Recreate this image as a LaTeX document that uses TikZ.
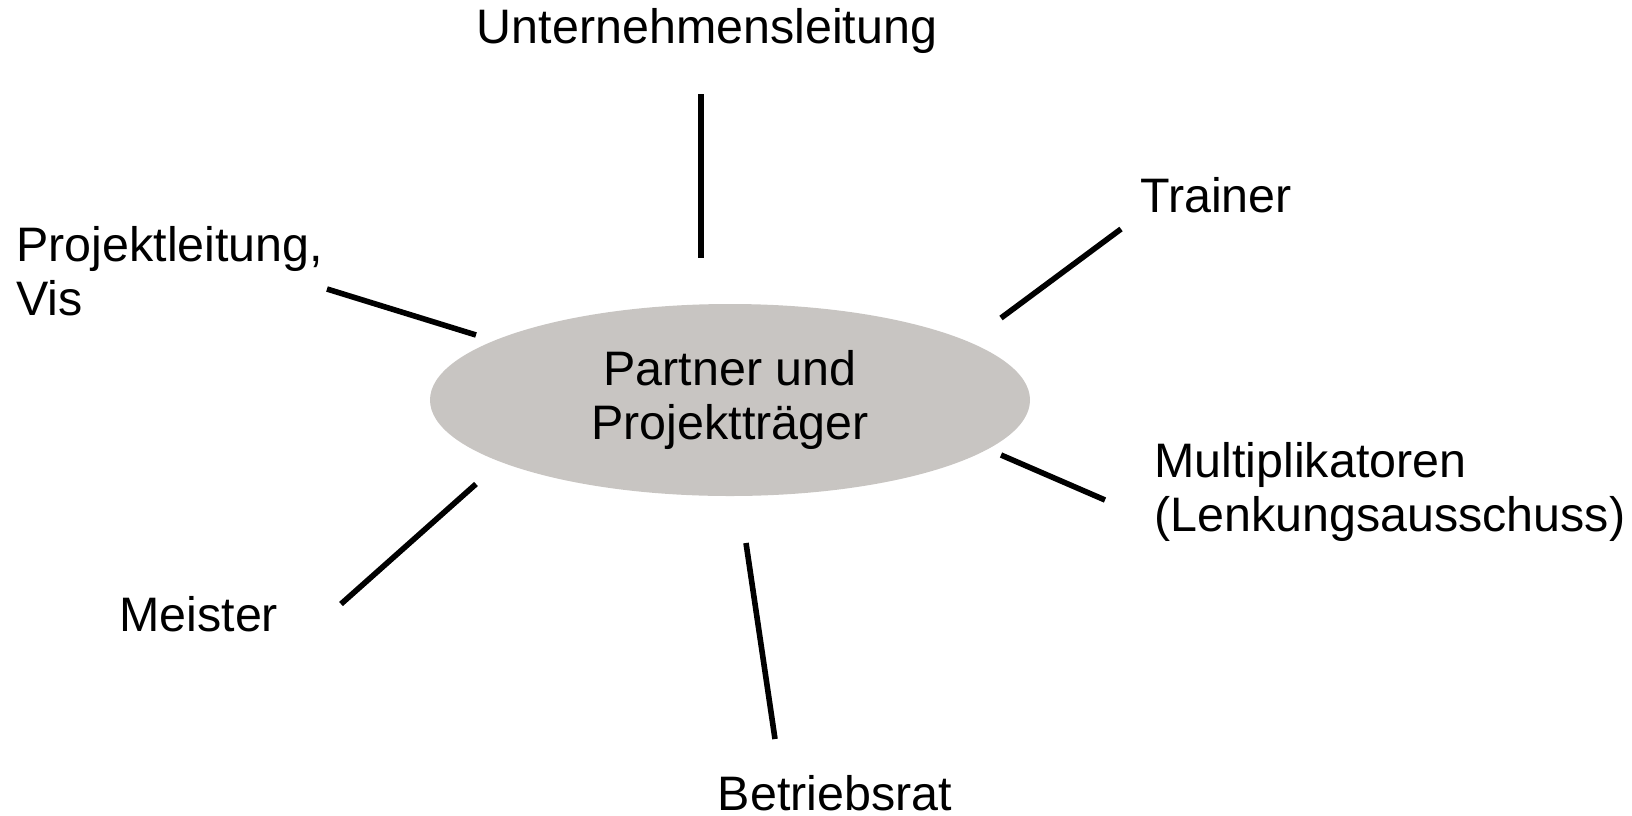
\documentclass[tikz,border=0pt]{standalone}
\usepackage{fontspec}
\setmainfont{Liberation Sans}
\usetikzlibrary{shapes.geometric}

\definecolor{hubgray}{RGB}{200,197,194}

\tikzset{
    role/.style={font=\fontsize{24.2}{27}\selectfont, inner sep=0pt},
    spoke/.style={line width=2.8pt},
}

\begin{document}
\begin{tikzpicture}[x=0.5pt, y=-0.5pt]
    \useasboundingbox (0,0) rectangle (1632,815);

        % Declare the hub
        \node[ellipse, fill=hubgray, minimum width=300pt, minimum height=96pt, inner sep=0pt, role, align=center] at (730, 400) (hub) {Partner und\\Projektträger};

        % Declare the roles
        \node[role] at (707, 31) (ul) {Unternehmensleitung};
        \node[role, anchor=west] at (1140, 195) (tr) {Trainer};
        \node[role, anchor=west, align=left] at (16, 271) (pl) {Projektleitung,\\Vis};
        \node[role, anchor=west, align=left] at (1154, 492) (mp) {Multiplikatoren\\(Lenkungsausschuss)};
        \node[role, anchor=west] at (119, 614) (me) {Meister};
        \node[role] at (835, 793) (br) {Betriebsrat};

        % Declare spoke ends
        \coordinate (ul-o) at (701, 94);   \coordinate (ul-i) at (701, 258);
        \coordinate (tr-o) at (1121, 229); \coordinate (tr-i) at (1001, 318);
        \coordinate (pl-o) at (327, 289);  \coordinate (pl-i) at (476, 335);
        \coordinate (mp-o) at (1105, 500); \coordinate (mp-i) at (1001, 455);
        \coordinate (me-o) at (341, 604);  \coordinate (me-i) at (476, 484);
        \coordinate (br-o) at (775, 739);  \coordinate (br-i) at (746, 543);

        % Declare spokes
        \draw[spoke] (ul-o) -- (ul-i);
        \draw[spoke] (tr-o) -- (tr-i);
        \draw[spoke] (pl-o) -- (pl-i);
        \draw[spoke] (mp-o) -- (mp-i);
        \draw[spoke] (me-o) -- (me-i);
        \draw[spoke] (br-o) -- (br-i);

    \end{tikzpicture}
\end{document}
